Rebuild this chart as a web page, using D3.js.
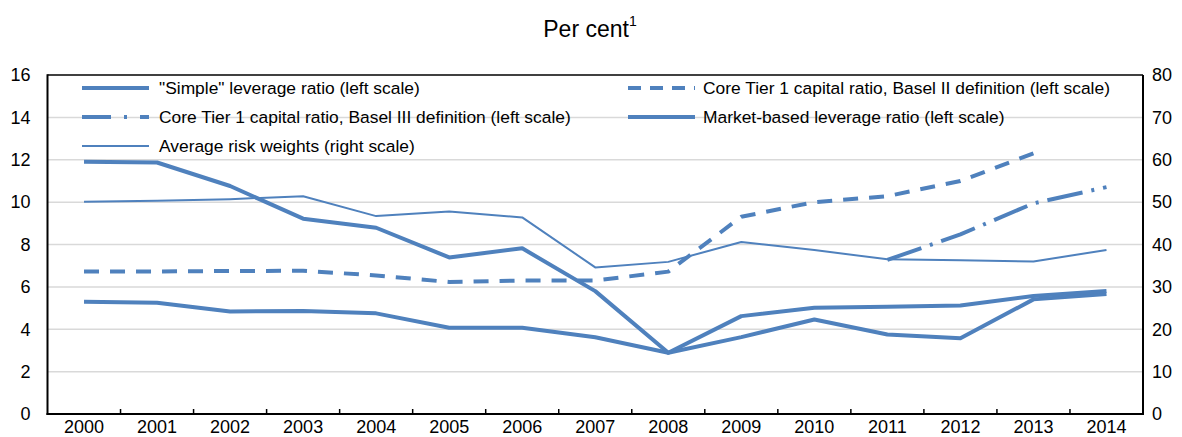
<!DOCTYPE html>
<html>
<head>
<meta charset="utf-8">
<script src="https://cdn.jsdelivr.net/npm/d3@7"></script>
<style>
  html, body { margin: 0; padding: 0; background: #fff; }
  svg { display: block; font-family: "Liberation Sans", Arial, sans-serif; }
</style>
</head>
<body>
<svg id="chart" width="1182" height="437"></svg>
<script>
const years = ["2000","2001","2002","2003","2004","2005","2006","2007","2008","2009","2010","2011","2012","2013","2014"];
const simpleLeverage = [5.30, 5.25, 4.84, 4.86, 4.75, 4.07, 4.07, 3.62, 2.89, 3.63, 4.46, 3.75, 3.58, 5.41, 5.66];
const coreTier1BaselII = [6.73, 6.73, 6.75, 6.76, 6.54, 6.23, 6.30, 6.30, 6.72, 9.31, 10.0, 10.28, 11.0, 12.3, null];
const coreTier1BaselIII = [null, null, null, null, null, null, null, null, null, null, null, 7.27, 8.48, 9.94, 10.71];
const marketLeverage = [11.91, 11.87, 10.76, 9.22, 8.79, 7.39, 7.82, 5.80, 2.89, 4.62, 5.02, 5.06, 5.12, 5.57, 5.80];
const riskWeights = [50.1, 50.3, 50.7, 51.4, 46.7, 47.8, 46.4, 34.6, 35.9, 40.6, 38.7, 36.5, 36.3, 36.0, 38.7];
const leftTicks = [0, 2, 4, 6, 8, 10, 12, 14, 16];
const rightTicks = [0, 10, 20, 30, 40, 50, 60, 70, 80];
const legendLabels = [
  "\"Simple\" leverage ratio (left scale)",
  "Core Tier 1 capital ratio, Basel II definition (left scale)",
  "Core Tier 1 capital ratio, Basel III definition (left scale)",
  "Market-based leverage ratio (left scale)",
  "Average risk weights (right scale)"
];

const color = "#4f81bd";
const L = 47.5, R = 1143, T = 75, B = 414;
const svg = d3.select("#chart");

const x = d3.scaleBand().domain(years).range([L, R]).padding(0);
const cx = d => x(d) + x.bandwidth() / 2;
const yL = d3.scaleLinear().domain([0, 16]).range([B, T]);
const yR = d3.scaleLinear().domain([0, 80]).range([B, T]);

// gridlines
svg.append("g").selectAll("line").data(leftTicks.filter(t => t > 0 && t < 16)).join("line")
  .attr("x1", L).attr("x2", R).attr("y1", d => yL(d)).attr("y2", d => yL(d))
  .attr("stroke", "#d9d9d9").attr("stroke-width", 1.5);

// title
const title = svg.append("text").attr("x", 590).attr("y", 37).attr("text-anchor", "middle")
  .attr("font-size", 23).attr("fill", "#000");
title.append("tspan").text("Per cent");
title.append("tspan").attr("font-size", 14).attr("dy", -11).text("1");

// left axis labels
const gl = svg.append("g").attr("transform", `translate(${L},0)`)
  .call(d3.axisLeft(yL).tickValues(leftTicks).tickSize(0).tickPadding(17));
gl.select(".domain").remove();
gl.selectAll("text").attr("font-size", 18).attr("font-family", "Liberation Sans, Arial, sans-serif").attr("fill", "#000");

// right axis labels
const gr = svg.append("g").attr("transform", `translate(${R},0)`)
  .call(d3.axisRight(yR).tickValues(rightTicks).tickSize(0).tickPadding(9));
gr.select(".domain").remove();
gr.selectAll("text").attr("font-size", 18).attr("font-family", "Liberation Sans, Arial, sans-serif").attr("fill", "#000");

// bottom axis labels
const gb = svg.append("g").attr("transform", `translate(0,${B})`)
  .call(d3.axisBottom(x).tickSize(0).tickPadding(6));
gb.select(".domain").remove();
gb.selectAll("text").attr("font-size", 18).attr("font-family", "Liberation Sans, Arial, sans-serif").attr("fill", "#000");

// bottom ticks at band boundaries
svg.append("g").selectAll("line").data(years.slice(1)).join("line")
  .attr("x1", d => x(d)).attr("x2", d => x(d)).attr("y1", B).attr("y2", B - 5)
  .attr("stroke", "#000").attr("stroke-width", 1.5);

// frame
svg.append("line").attr("x1", L).attr("x2", R).attr("y1", T).attr("y2", T).attr("stroke", "#000").attr("stroke-width", 1.5);
svg.append("line").attr("x1", R).attr("x2", R).attr("y1", T).attr("y2", B).attr("stroke", "#000").attr("stroke-width", 2);
svg.append("line").attr("x1", L).attr("x2", L).attr("y1", T - 0.75).attr("y2", B + 1).attr("stroke", "#000").attr("stroke-width", 2);
svg.append("line").attr("x1", L - 1).attr("x2", R + 1).attr("y1", B).attr("y2", B).attr("stroke", "#000").attr("stroke-width", 2);

const series = [
  { vals: simpleLeverage, y: yL, w: 4, dash: null },
  { vals: coreTier1BaselII, y: yL, w: 4, dash: "15,11" },
  { vals: coreTier1BaselIII, y: yL, w: 4, dash: "36,9,3,9" },
  { vals: marketLeverage, y: yL, w: 4, dash: null },
  { vals: riskWeights, y: yR, w: 2, dash: null }
];

// legend
const legendPos = [
  { lx: 82, tx: 159, y: 88 },
  { lx: 628, tx: 703, y: 88 },
  { lx: 82, tx: 159, y: 117 },
  { lx: 628, tx: 703, y: 117 },
  { lx: 82, tx: 159, y: 146 }
];
const lg = svg.append("g");
series.forEach((s, i) => {
  const p = legendPos[i];
  lg.append("line").attr("x1", p.lx).attr("x2", p.lx + 67).attr("y1", p.y).attr("y2", p.y)
    .attr("stroke", color).attr("stroke-width", s.w).attr("stroke-dasharray", s.dash ? (i === 2 ? "29,13,3,13" : "13,9") : null);
  lg.append("text").attr("x", p.tx).attr("y", p.y + 6).attr("font-size", 17.4).attr("fill", "#000").text(legendLabels[i]);
});

// lines
const g = svg.append("g");
[4, 1, 2, 0, 3].forEach(i => {
  const s = series[i];
  const line = d3.line()
    .defined(d => d[1] != null)
    .x(d => cx(d[0]))
    .y(d => s.y(d[1]));
  g.append("path").datum(years.map((yr, k) => [yr, s.vals[k]]))
    .attr("d", line).attr("fill", "none").attr("stroke", color)
    .attr("stroke-width", s.w).attr("stroke-linejoin", "round")
    .attr("stroke-dasharray", s.dash);
});
</script>
</body>
</html>
